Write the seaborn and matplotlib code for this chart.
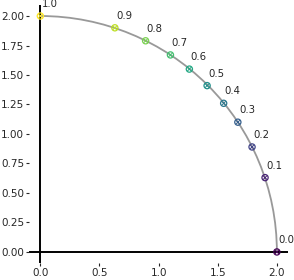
import pandas as pd
import matplotlib.pyplot as plt
import seaborn as sns
from matplotlib.patches import Arc

# values
t_values = [0.0, 0.1, 0.2, 0.3, 0.4, 0.5, 0.6, 0.7, 0.8, 0.9, 1.0]
x_values = [2.00, 1.90, 1.79, 1.67, 1.55, 1.41, 1.26, 1.10, 0.89, 0.63, 0.00]
y_values = [0.00, 0.63, 0.89, 1.10, 1.26, 1.41, 1.55, 1.67, 1.79, 1.90, 2.00]
labels = ["0.0", "0.1", "0.2", "0.3", "0.4", "0.5", "0.6", "0.7", "0.8", "0.9", "1.0"]

df = pd.DataFrame({"t": t_values, "x": x_values, "y": y_values, "label": labels})

sns.set_style("ticks")
plt.rcParams['font.family'] = ['DejaVu Sans']

fig, ax = plt.subplots(figsize=(2.94, 2.80), dpi=100)
fig.subplots_adjust(left=0.099, right=0.98, top=0.982, bottom=0.061)

# quarter circle of radius 2
ax.add_patch(Arc((0, 0), 4, 4, theta1=0, theta2=90, color="#999999", lw=1.3, zorder=1))

ax.axhline(0, color="black", lw=1.4, zorder=0)
ax.axvline(0, color="black", lw=1.4, zorder=0)

sns.scatterplot(data=df, x="x", y="y", hue="t", palette="viridis", marker="o",
                s=20, linewidth=0.9, legend=False, ax=ax, zorder=3)

# open circle markers
pts = ax.collections[-1]
cols = pts.get_facecolors()
pts.set_edgecolors(cols)
pts.set_facecolor("none")

# cross inside each circle
sns.scatterplot(data=df, x="x", y="y", hue="t", palette="viridis", marker="x",
                s=9, linewidth=0.7, legend=False, ax=ax, zorder=3)

for i in range(len(df)):
    ax.annotate(df["label"][i], (df["x"][i], df["y"][i]), xytext=(0.8, 6.5),
                textcoords="offset points", fontsize=7.3, zorder=4)

ax.set_xlim(-0.095, 2.095)
ax.set_ylim(-0.093, 2.093)
ax.set_xticks([0.0, 0.5, 1.0, 1.5, 2.0])
ax.set_yticks([0.0, 0.25, 0.5, 0.75, 1.0, 1.25, 1.5, 1.75, 2.0])
ax.set_yticklabels(["0.00", "0.25", "0.50", "0.75", "1.00", "1.25", "1.50", "1.75", "2.00"])
ax.tick_params(labelsize=7.5, length=2, width=0.8, pad=1.5)
ax.set_xlabel("")
ax.set_ylabel("")
sns.despine(ax=ax, left=True, bottom=True)

fig.savefig("out.png", dpi=100)
